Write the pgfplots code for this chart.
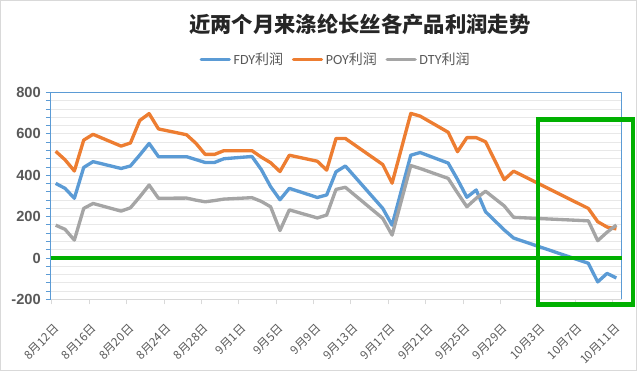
\documentclass[border=0pt]{standalone}
\usepackage{fontspec}
\setmainfont{Liberation Sans}
\newfontfamily\cjk{Noto Sans CJK SC}
\newfontfamily\carlito{Carlito}
\usepackage{pgfplots}
\usepackage{pgfplotstable}
\pgfplotsset{compat=1.18}
\definecolor{fdy}{RGB}{91,155,213}
\definecolor{poy}{RGB}{237,125,49}
\definecolor{dty}{RGB}{165,165,165}
\definecolor{grn}{RGB}{0,176,0}
\definecolor{txt}{RGB}{89,89,89}
\definecolor{gridc}{RGB}{232,232,232}
\definecolor{axblue}{RGB}{91,155,213}
\definecolor{framec}{RGB}{217,217,217}

\pgfplotstableread{
d fdy poy dty
0 361 516 159
1 337 475 139
2 289 421 87
3 438 570 240
4 466 598 264
7 433 541 227
8 445 556 243
9 498 665 296
10 554 698 353
11 490 624 289
14 490 596 290
15 476 555 280
16 462 501 272
17 462 501 278
18 480 519 285
21 491 519 292
22 428 488 274
23 345 461 248
24 282 418 133
25 337 497 233
28 293 468 194
29 305 425 208
30 417 578 332
31 445 578 342
35 240 452 192
36 159 362 111
38 497 699 447
39 510 686 433
42 459 608 385
43 380 514 315
44 294 582 248
45 329 582 289
46 224 562 323
48 136 379 252
49 97 420 197
57 -25 240 180
58 -115 176 84
59 -74 150 125
60 -96 141 160
}\data

\begin{document}
\begin{tikzpicture}[x=1pt,y=1pt]
\useasboundingbox (0,0) rectangle (477.75,278.25);
\draw[color=framec, line width=0.75pt] (0.375,0.375) rectangle (477.375,277.875);
\node[font=\cjk\bfseries\fontsize{16}{16}\selectfont, text=black!85] at (270,260) {近两个月来涤纶长丝各产品利润走势};
\begin{axis}[at={(38.25pt,53.625pt)}, anchor=south west, scale only axis,
  width=428.25pt, height=155.25pt,
  xmin=-0.1, xmax=61, ymin=-200, ymax=800,
  xtick={0,4,...,60},
  xticklabels={8月12日,8月16日,8月20日,8月24日,8月28日,9月1日,9月5日,9月9日,9月13日,9月17日,9月21日,9月25日,9月29日,10月3日,10月7日,10月11日},
  ytick={-200,0,200,400,600,800},
  yticklabels={-200,0,200,400,600,800},
  minor y tick num=4,
  ymajorgrids, yminorgrids,
  major grid style={gridc, line width=0.75pt},
  minor grid style={gridc, line width=0.75pt},
  tick align=outside, xtick pos=bottom, ytick pos=left,
  major tick length=3.75pt, minor tick length=3.75pt,
  xtick style={framec, line width=0.75pt},
  ytick style={axblue, line width=0.75pt},
  axis line style={axblue, line width=0.75pt},
  yticklabel style={font=\bfseries\fontsize{11}{11}\selectfont, text=txt, anchor=east, inner sep=0pt, xshift=-3.75pt},
  xticklabel style={font=\cjk\fontsize{8.8}{8.8}\selectfont, text=txt, xshift=3.75pt, yshift=-16.5pt, rotate=45, anchor=east, inner sep=0pt},
  legend style={at={(0.499,1.161)}, anchor=center, draw=none, fill=none,
    font=\fontsize{10.5}{10.5}\selectfont, text=txt, inner sep=0pt,
    /tikz/every even column/.append style={column sep=4.5pt}},
  legend columns=3,
  legend image code/.code={\draw[#1, line width=2.5pt, line cap=round] (0pt,0pt) -- (21pt,0pt);},
  clip=false,
]
\addplot[fdy, line width=2.5pt, line join=round] table[x expr=\thisrow{d}+0.4, y=fdy] {\data};
\addlegendentry{{\carlito FDY}{\cjk 利润}}
\addplot[poy, line width=2.5pt, line join=round] table[x expr=\thisrow{d}+0.4, y=poy] {\data};
\addlegendentry{{\carlito POY}{\cjk 利润}}
\addplot[dty, line width=2.5pt, line join=round] table[x expr=\thisrow{d}+0.4, y=dty] {\data};
\addlegendentry{{\carlito DTY}{\cjk 利润}}
\addplot[grn, line width=3pt, forget plot] coordinates {(-0.1,0) (61,0)};
\draw[framec, line width=0.75pt] (rel axis cs:0,0) -- (rel axis cs:1,0);
\draw[grn, line width=3.2pt] (axis cs:52.05,670) rectangle (axis cs:62.14,-224);
\end{axis}
\end{tikzpicture}
\end{document}
